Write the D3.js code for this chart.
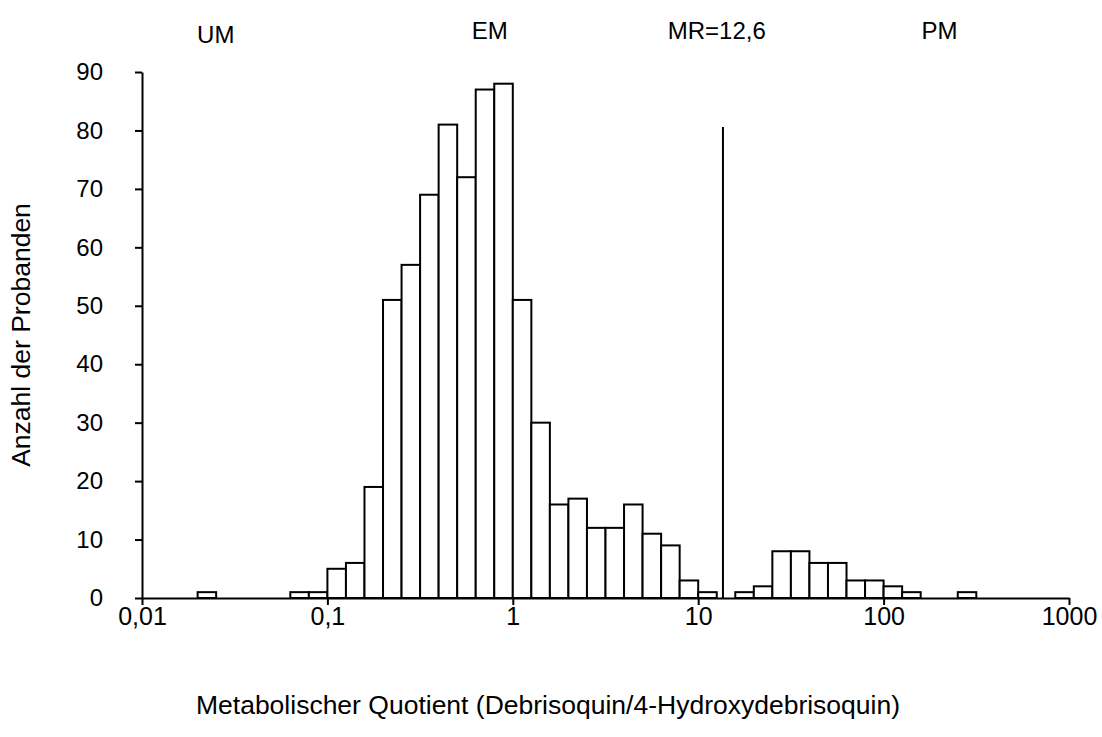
<!DOCTYPE html>
<html>
<head>
<meta charset="utf-8">
<script src="https://cdn.jsdelivr.net/npm/d3@7"></script>
<style>
  body { margin: 0; background: #fff; }
  svg text { font-family: "Liberation Sans", Arial, sans-serif; fill: #000; }
</style>
</head>
<body>
<svg width="1102" height="737"></svg>
<script>
// histogram bins: lower edge as log10 exponent, bin width 0.1 decade
var binStart = [-1.7, -1.2, -1.1, -1.0, -0.9, -0.8, -0.7, -0.6, -0.5, -0.4, -0.3, -0.2, -0.1,
                0.0, 0.1, 0.2, 0.3, 0.4, 0.5, 0.6, 0.7, 0.8, 0.9, 1.0,
                1.2, 1.3, 1.4, 1.5, 1.6, 1.7, 1.8, 1.9, 2.0, 2.1, 2.4];
var counts   = [1, 1, 1, 5, 6, 19, 51, 57, 69, 81, 72, 87, 88,
                51, 30, 16, 17, 12, 12, 16, 11, 9, 3, 1,
                1, 2, 8, 8, 6, 6, 3, 3, 2, 1, 1];
var binWidth = 0.1;

var xTicks = [0.01, 0.1, 1, 10, 100, 1000];
var xTickLabels = ["0,01", "0,1", "1", "10", "100", "1000"];
var yTicks = [0, 10, 20, 30, 40, 50, 60, 70, 80, 90];

// cut-off line (MR) and group labels
var cutoff = { x: 13.6, top: 80.6 };
var groups = [
  { label: "UM", x: 0.025, dy: 4 },
  { label: "EM", x: 0.75, dy: 0 },
  { label: "MR=12,6", x: 12.6, dy: 0 },
  { label: "PM", x: 200, dy: 0 }
];

var svg = d3.select("svg"),
    margin = { top: 72, right: 33, bottom: 139, left: 142 },
    width  = +svg.attr("width"),
    height = +svg.attr("height");

const x = d3.scaleLog()
  .domain([0.01, 1000])
  .range([margin.left, width - margin.right]);

const y = d3.scaleLinear()
  .domain([0, 90])
  .range([height - margin.bottom, margin.top]);

const g = svg.append("g");

// bars
g.selectAll("rect")
  .data(binStart.map((s, i) => ({ s: s, c: counts[i] })))
  .enter()
  .append("rect")
  .attr("x", d => x(Math.pow(10, d.s)))
  .attr("y", d => y(d.c))
  .attr("width", d => x(Math.pow(10, d.s + binWidth)) - x(Math.pow(10, d.s)))
  .attr("height", d => y(0) - y(d.c))
  .attr("fill", "#fff")
  .attr("stroke", "#000")
  .attr("stroke-width", 2);

// x axis
const xAxis = g.append("g")
  .attr("transform", "translate(0," + y(0) + ")")
  .call(d3.axisBottom(x).tickValues(xTicks).tickFormat((d, i) => xTickLabels[i])
    .tickSize(7).tickSizeOuter(0).tickPadding(2));
xAxis.select(".domain").attr("stroke-width", 2);
xAxis.selectAll(".tick line").attr("stroke-width", 2);
xAxis.selectAll(".tick text")
  .attr("font-size", 25)
  .style("font-family", "'Liberation Sans', Arial, sans-serif");

// y axis
const yAxis = g.append("g")
  .attr("transform", "translate(" + margin.left + ",0)")
  .call(d3.axisLeft(y).tickValues(yTicks).tickSize(7).tickSizeOuter(0).tickPadding(32));
yAxis.select(".domain").attr("stroke-width", 2);
yAxis.selectAll(".tick line").attr("stroke-width", 2);
yAxis.selectAll(".tick text")
  .attr("font-size", 24)
  .style("font-family", "'Liberation Sans', Arial, sans-serif");

// cutoff line
g.append("line")
  .attr("x1", x(cutoff.x)).attr("x2", x(cutoff.x))
  .attr("y1", y(0)).attr("y2", y(cutoff.top))
  .attr("stroke", "#000")
  .attr("stroke-width", 2);

// group labels on top
g.selectAll(".grp")
  .data(groups)
  .enter()
  .append("text")
  .attr("class", "grp")
  .attr("x", d => x(d.x))
  .attr("y", d => 39 + d.dy)
  .attr("text-anchor", "middle")
  .attr("font-size", 24)
  .text(d => d.label);

// axis titles
svg.append("text")
  .attr("x", 548)
  .attr("y", 714)
  .attr("text-anchor", "middle")
  .attr("font-size", 26.5)
  .text("Metabolischer Quotient (Debrisoquin/4-Hydroxydebrisoquin)");

svg.append("text")
  .attr("transform", "rotate(-90)")
  .attr("x", -335)
  .attr("y", 30)
  .attr("text-anchor", "middle")
  .attr("font-size", 26.5)
  .text("Anzahl der Probanden");
</script>
</body>
</html>
